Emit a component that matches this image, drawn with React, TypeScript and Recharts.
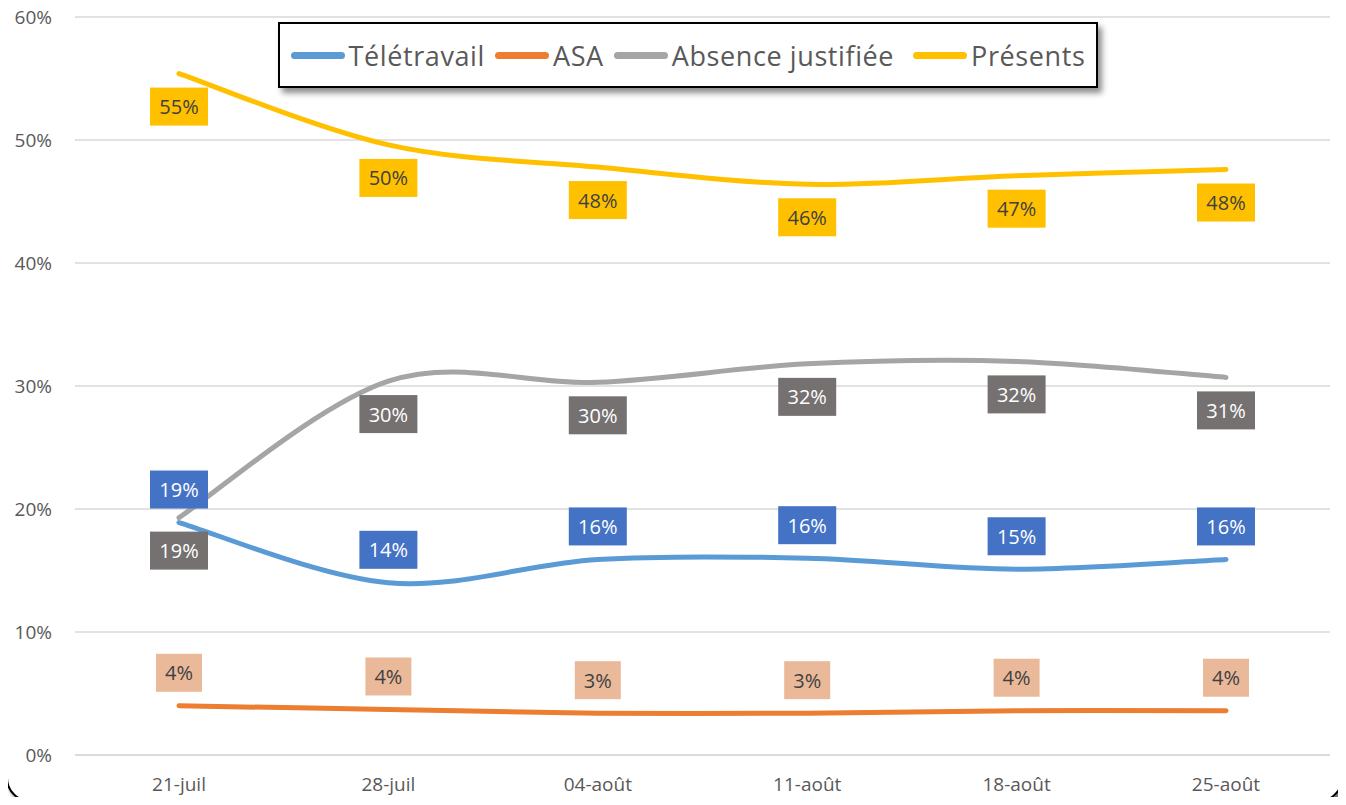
import React from 'react';
import { LineChart, Line, XAxis, YAxis, CartesianGrid, Legend, LabelList } from 'recharts';

const weeks = ['21-juil', '28-juil', '04-août', '11-août', '18-août', '25-août'];
const teletravail = [18.9, 14.0, 15.9, 16.0, 15.1, 15.9];
const asa = [4.0, 3.7, 3.4, 3.4, 3.6, 3.6];
const absence = [19.3, 30.4, 30.3, 31.8, 32.0, 30.7];
const presents = [55.4, 49.6, 47.8, 46.4, 47.1, 47.6];
const yTicks = [0, 10, 20, 30, 40, 50, 60];

const data = weeks.map((week, i) => ({
  week,
  teletravail: teletravail[i],
  asa: asa[i],
  absence: absence[i],
  presents: presents[i],
}));

const FONT = '"Open Sans", "Noto Sans", sans-serif';

// smooth curve close to Excel's "smoothed line"
const smoothCurve = (context: any) => {
  let pts: number[][] = [];
  return {
    areaStart() {},
    areaEnd() {},
    lineStart() {
      pts = [];
    },
    point(x: number, y: number) {
      pts.push([x, y]);
    },
    lineEnd() {
      if (!pts.length) return;
      context.moveTo(pts[0][0], pts[0][1]);
      const t = 1 / 6;
      for (let i = 0; i < pts.length - 1; i++) {
        const p0 = pts[i - 1] || pts[i];
        const p1 = pts[i];
        const p2 = pts[i + 1];
        const p3 = pts[i + 2] || p2;
        context.bezierCurveTo(
          p1[0] + (p2[0] - p0[0]) * t,
          p1[1] + (p2[1] - p0[1]) * t,
          p2[0] - (p3[0] - p1[0]) * t,
          p2[1] - (p3[1] - p1[1]) * t,
          p2[0],
          p2[1]
        );
      }
    },
  };
};

const makeLabel = (bg: string, color: string, dy: number) => (props: any) => {
  const { x, y, value } = props;
  if (x == null || y == null) return null;
  const text = `${Math.round(value)}%`;
  const w = text.length === 3 ? 58 : 46;
  const h = 38;
  const cy = y + dy;
  return (
    <g>
      <rect x={x - w / 2} y={cy - h / 2} width={w} height={h} fill={bg} />
      <text
        x={x}
        y={cy}
        textAnchor="middle"
        dominantBaseline="central"
        fontSize={20}
        fill={color}
        fontFamily={FONT}
      >
        {text}
      </text>
    </g>
  );
};

const legendItems = [
  { name: 'Télétravail', color: '#5B9BD5', gap: 10 },
  { name: 'ASA', color: '#ED7D31', gap: 10 },
  { name: 'Absence justifiée', color: '#A5A5A5', gap: 19 },
  { name: 'Présents', color: '#FFC000', gap: 0 },
];

const ChartLegend = () => (
  <div
    style={{
      boxSizing: 'border-box',
      width: 820,
      height: 66,
      border: '2px solid #000',
      background: '#fff',
      boxShadow: '4px 5px 6px rgba(0,0,0,0.45)',
      display: 'flex',
      alignItems: 'center',
      justifyContent: 'center',
      fontFamily: FONT,
      fontSize: 27,
      letterSpacing: 0.6,
      color: '#595959',
    }}
  >
    {legendItems.map((item) => (
      <div key={item.name} style={{ display: 'flex', alignItems: 'center', marginRight: item.gap }}>
        <span
          style={{
            display: 'inline-block',
            width: 54,
            height: 7,
            borderRadius: 4,
            background: item.color,
            marginRight: 4,
          }}
        />
        <span>{item.name}</span>
      </div>
    ))}
  </div>
);

export default function App() {
  return (
    <div
      style={{
        position: 'relative',
        width: 1346,
        height: 805,
        margin: -8,
        overflow: 'hidden',
        background: '#fff',
        fontFamily: FONT,
      }}
    >
      <div
        style={{
          position: 'absolute',
          left: 6,
          top: -40,
          width: 1337,
          height: 842,
          border: '2px solid #000',
          borderRadius: 24,
          boxShadow: '3px 3px 4px rgba(0,0,0,0.6)',
          boxSizing: 'border-box',
        }}
      />
      <div style={{ position: 'absolute', left: 0, top: 0 }}>
        <LineChart width={1346} height={805} data={data} margin={{ top: 17, right: 16, bottom: 0, left: 0 }}>
          <CartesianGrid vertical={false} stroke="#D9D9D9" strokeWidth={1.5} />
          <XAxis
            dataKey="week"
            height={50}
            padding={{ left: 104, right: 104 }}
            axisLine={{ stroke: '#D9D9D9', strokeWidth: 1.5 }}
            tickLine={false}
            tickMargin={17}
            tick={{ fontSize: 19, fill: '#595959' }}
          />
          <YAxis
            width={75}
            domain={[0, 60]}
            ticks={yTicks}
            axisLine={false}
            tickLine={false}
            tickMargin={17}
            tickFormatter={(v: number) => `${v}%`}
            tick={{ fontSize: 19, fill: '#595959' }}
          />
          <Legend
            layout="horizontal"
            verticalAlign="middle"
            align="center"
            width={820}
            wrapperStyle={{ top: 22, left: 278, width: 820 }}
            content={() => <ChartLegend />}
          />
          <Line type={smoothCurve as any} dataKey="teletravail" name="Télétravail" stroke="#5B9BD5" strokeWidth={5} strokeLinecap="round" dot={false} isAnimationActive={false}>
            <LabelList dataKey="teletravail" content={makeLabel('#4472C4', '#FFFFFF', -33)} />
          </Line>
          <Line type={smoothCurve as any} dataKey="asa" name="ASA" stroke="#ED7D31" strokeWidth={5} strokeLinecap="round" dot={false} isAnimationActive={false}>
            <LabelList dataKey="asa" content={makeLabel('#E9B99A', '#404040', -33)} />
          </Line>
          <Line type={smoothCurve as any} dataKey="absence" name="Absence justifiée" stroke="#A5A5A5" strokeWidth={5} strokeLinecap="round" dot={false} isAnimationActive={false}>
            <LabelList dataKey="absence" content={makeLabel('#767171', '#FFFFFF', 33)} />
          </Line>
          <Line type={smoothCurve as any} dataKey="presents" name="Présents" stroke="#FFC000" strokeWidth={5} strokeLinecap="round" dot={false} isAnimationActive={false}>
            <LabelList dataKey="presents" content={makeLabel('#FFC000', '#404040', 33)} />
          </Line>
        </LineChart>
      </div>
    </div>
  );
}
